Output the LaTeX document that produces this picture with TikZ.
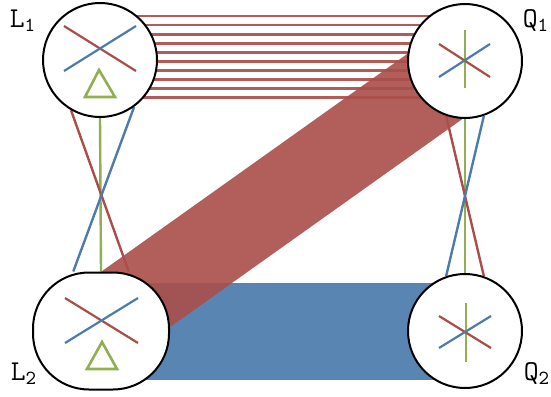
\documentclass[tikz,border=0pt]{standalone}
\usetikzlibrary{calc,backgrounds}
\definecolor{lnred}{RGB}{170,78,74}
\definecolor{lnblue}{RGB}{76,124,172}
\definecolor{lngreen}{RGB}{145,174,80}
\tikzset{
  hub/.style={circle,draw,line width=1pt,fill=white,minimum size=57pt,inner sep=0pt},
  hubwide/.style={rectangle,rounded corners=28pt,draw,line width=1pt,fill=white,
    minimum width=68pt,minimum height=58.5pt,inner sep=0pt},
  tag/.style={font=\Large,inner sep=0pt},
  link/.style={line width=1.2pt},
  glyph/.style={line width=1.1pt},
}
\begin{document}
\begin{tikzpicture}[x=0.5pt,y=-0.5pt]
\useasboundingbox (0,0) rectangle (551,396);
% the four hubs
\node[hub] (L1) at (100,60) {};
\node[hub] (Q1) at (465,61) {};
\node[hubwide] (L2) at (101,331) {};
\node[hub] (Q2) at (465,331) {};
\node[tag] (tL1) at (23,21) {$\mathtt{L}_{\mathtt{1}}$};
\node[tag] (tQ1) at (536,21) {$\mathtt{Q}_{\mathtt{1}}$};
\node[tag] (tL2) at (24,374) {$\mathtt{L}_{\mathtt{2}}$};
\node[tag] (tQ2) at (537,374) {$\mathtt{Q}_{\mathtt{2}}$};
% what sits inside them
\begin{scope}[shift={(L1.center)}]
\draw[glyph,lnred] (-36,-34) -- (36,11);
\draw[glyph,lnblue] (-36,11) -- (36,-34);
\draw[glyph,lngreen,line width=1.3pt] (-1,10) -- (-15,37) -- (15,37) -- cycle;
\end{scope}
\begin{scope}[shift={(L2.center)}]
\draw[glyph,lnred] (-36,-33) -- (37,12);
\draw[glyph,lnblue] (-36,12) -- (37,-33);
\draw[glyph,lngreen,line width=1.3pt] (1,11) -- (-14,38) -- (16,38) -- cycle;
\end{scope}
\begin{scope}[shift={(Q1.center)}]
\draw[glyph,lngreen] (0,-31) -- (0,27);
\draw[glyph,lnred] (-26,-17) -- (25,16);
\draw[glyph,lnblue] (-26,16) -- (25,-17);
\end{scope}
\begin{scope}[shift={(Q2.center)}]
\draw[glyph,lngreen] (1,-28) -- (1,31);
\draw[glyph,lnred] (-26,-15) -- (26,17);
\draw[glyph,lnblue] (-26,17) -- (26,-15);
\end{scope}
% connectors, behind the hubs
\begin{pgfonlayer}{background}
\draw[lnblue,line width=48.5pt,opacity=.93] (L2.center) -- (Q2.center);
\draw[lnred,line width=42.5pt,opacity=.9] ([yshift=3.5pt]L2.center) -- ([yshift=-2pt]Q1.center);
\foreach \i in {0,...,9}{
  \path ([yshift={22pt-4.535pt*\i}]L1.center) coordinate (h\i);
  \draw[link,lnred,line width=1.4pt,opacity=.92] (h\i) -- (h\i -| Q1.center);
}
\draw[link,lngreen] (L1.south) -- (L2.north);
\draw[link,lnred] (L1.240) -- (L2.65);
\draw[link,lnblue] (L1.306) -- (L2.115);
\draw[link,lngreen] (Q1.south) -- (Q2.north);
\draw[link,lnred] (Q1.251) -- (Q2.71);
\draw[link,lnblue] (Q1.289) -- (Q2.109);
\end{pgfonlayer}
\end{tikzpicture}
\end{document}
